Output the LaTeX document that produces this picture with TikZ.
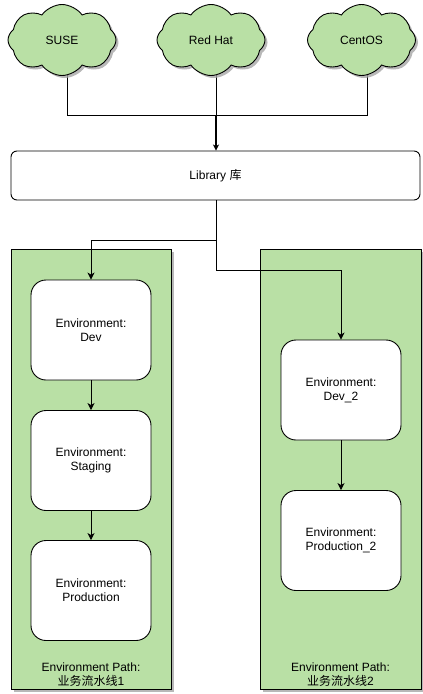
\documentclass[tikz,border=0pt]{standalone}
\usepackage{fontspec}
\setmainfont{Liberation Sans}
\newfontfamily\cjk{Noto Sans CJK SC}
\usetikzlibrary{shapes.symbols,shadows,arrows.meta,backgrounds}
\definecolor{gfill}{HTML}{B9E0A5}
\begin{document}
\begin{tikzpicture}[x=1pt,y=-1pt,
  font=\fontsize{12}{14}\selectfont,
  shadowed/.style={drop shadow={shadow xshift=2.5pt,shadow yshift=-2.5pt,fill=black!35,opacity=0.8}},
  cloudnode/.style={cloud,cloud puffs=8,cloud puff arc=110,aspect=1.5,draw=black,line width=0.9pt,fill=gfill,inner sep=0pt,minimum width=108pt,minimum height=71pt,shadowed},
  libbox/.style={draw=black,line width=0.9pt,fill=white,rounded corners=6pt,minimum width=409pt,minimum height=49pt,inner sep=0pt},
  pathbox/.style={draw=black,line width=0.9pt,fill=gfill,minimum height=440pt,inner sep=0pt,shadowed},
  envbox/.style={draw=black,line width=0.9pt,fill=white,rounded corners=15pt,minimum width=120pt,minimum height=100pt,inner sep=0pt,align=center},
  conn/.style={line width=0.9pt},
  arr/.style={line width=0.9pt,-{Stealth[length=7pt,width=7pt,inset=2pt]}},
  thickarr/.style={line width=1.8pt,-{Stealth[length=6pt,width=6pt,inset=1.5pt]}},
  lbl/.style={align=center,inner sep=0pt}]
\useasboundingbox (0,0) rectangle (423,694);
% containers
\node[pathbox,minimum width=160pt] (path1) at (91,469) {};
\node[pathbox,minimum width=161pt] (path2) at (340.5,469) {};
\node[lbl] (path1lbl) at (91,675) {Environment Path:\\{\cjk 业务流水线}1};
\node[lbl] (path2lbl) at (340.5,675) {Environment Path:\\{\cjk 业务流水线}2};
% clouds
\node[cloudnode] (suse) at (62,40) {SUSE};
\node[cloudnode] (redhat) at (211,40) {Red Hat};
\node[cloudnode] (centos) at (361.5,40) {CentOS};
% library
\node[libbox] (lib) at (215.5,175.5) {Library {\cjk 库}};
% environments
\node[envbox] (dev) at (91,330) {Environment:\\Dev};
\node[envbox] (staging) at (91,460.5) {Environment:\\Staging};
\node[envbox] (prod) at (91,590.5) {Environment:\\Production};
\node[envbox] (dev2) at (341,390) {Environment:\\Dev\_2};
\node[envbox] (prod2) at (341,540.5) {Environment:\\Production\_2};
% coordinates
\coordinate (join) at (216,115);
\coordinate (split1) at (216,240);
\coordinate (split2) at (216,270);
% connectors from clouds (behind the clouds)
\begin{scope}[on background layer]
\draw[conn] ([xshift=5pt]suse.center) |- (join);
\draw[conn] ([xshift=5.5pt]centos.center) |- (join);
\draw[conn] ([xshift=5pt]redhat.center) -- (join);
\end{scope}
\draw[thickarr] (join) -- (lib.north -| join);
\draw[conn] (lib.south -| split1) -- (split1);
\draw[arr] (split1) -| (dev.north);
\draw[arr] (split1) -- (split2) -| (dev2.north);
\draw[arr] (dev) -- (staging);
\draw[arr] (staging) -- (prod);
\draw[arr] (dev2) -- (prod2);
\end{tikzpicture}
\end{document}
